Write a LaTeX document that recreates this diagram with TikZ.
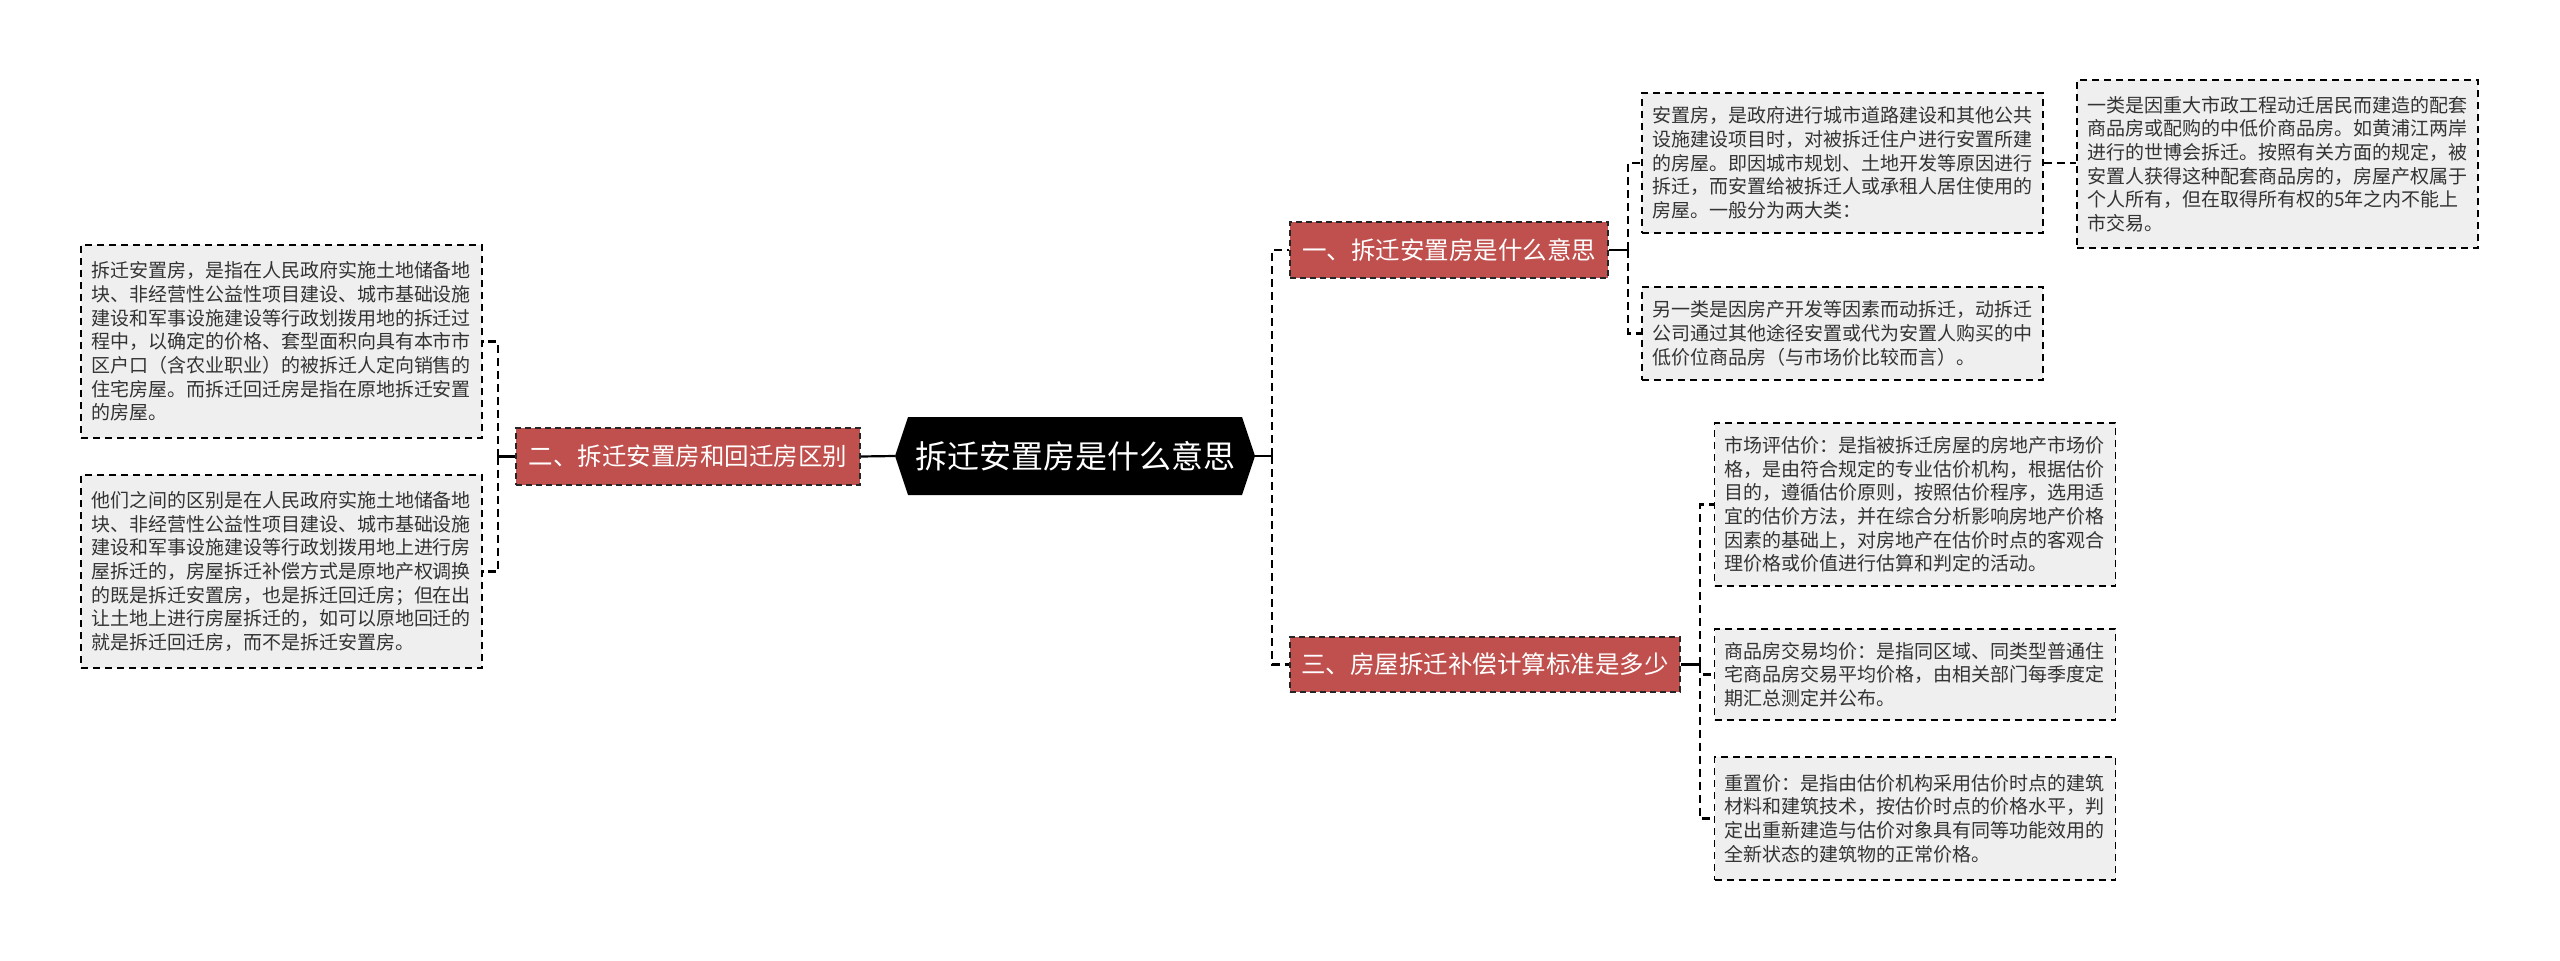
\documentclass[tikz,border=0pt]{standalone}
\usepackage{fontspec}
\setmainfont{Noto Sans CJK SC}
\definecolor{redbox}{HTML}{C0504D}
\definecolor{greybox}{HTML}{EFEFEF}
\definecolor{txt}{HTML}{333333}
\begin{document}
\begin{tikzpicture}[x=1pt,y=-1pt,
  leaf/.style={draw=black, fill=greybox, line width=1.8pt, dash pattern=on 7pt off 5pt,
    text=txt, font={\fontsize{19}{23.7}\selectfont}, align=left, text width=381pt,
    inner xsep=10pt, inner ysep=0pt, anchor=center},
  topic/.style={draw=black!85, fill=redbox, line width=1.6pt, dash pattern=on 6pt off 4pt,
    text=white, font={\fontsize{24.5}{28}\selectfont}, inner sep=0pt, anchor=center},
  link/.style={draw=black, line width=2.2pt, dash pattern=on 8pt off 5pt},
  stub/.style={draw=black, line width=2.2pt}
]
\useasboundingbox (0,0) rectangle (2560,961);
\fill[white] (0,0) rectangle (2560,961);

% center
\fill[black] (895,456) -- (908,417) -- (1242,417) -- (1255,456) -- (1242,495) -- (908,495) -- cycle;
\node[text=white, font={\fontsize{32}{36}\selectfont}, minimum width=360pt, minimum height=78pt, inner sep=0pt] (ctr) at (1075,456) {拆迁安置房是什么意思};

% topics
\node[topic, minimum width=318pt, minimum height=56pt] (t1) at (1449,250) {一、拆迁安置房是什么意思};
\node[topic, minimum width=344pt, minimum height=57pt] (t2) at (688,456.5) {二、拆迁安置房和回迁房区别};
\node[topic, minimum width=390pt, minimum height=55pt] (t3) at (1485,664.5) {三、房屋拆迁补偿计算标准是多少};

% left leaves
\node[leaf, minimum height=193pt] (l1) at (281.5,341.5) {拆迁安置房，是指在人民政府实施土地储备地\\块、非经营性公益性项目建设、城市基础设施\\建设和军事设施建设等行政划拨用地的拆迁过\\程中，以确定的价格、套型面积向具有本市市\\区户口（含农业职业）的被拆迁人定向销售的\\住宅房屋。而拆迁回迁房是指在原地拆迁安置\\的房屋。};
\node[leaf, minimum height=193pt] (l2) at (281.5,571.5) {他们之间的区别是在人民政府实施土地储备地\\块、非经营性公益性项目建设、城市基础设施\\建设和军事设施建设等行政划拨用地上进行房\\屋拆迁的，房屋拆迁补偿方式是原地产权调换\\的既是拆迁安置房，也是拆迁回迁房；但在出\\让土地上进行房屋拆迁的，如可以原地回迁的\\就是拆迁回迁房，而不是拆迁安置房。};

% right leaves, topic 1
\node[leaf, minimum height=140pt] (a) at (1842.5,163) {安置房，是政府进行城市道路建设和其他公共\\设施建设项目时，对被拆迁住户进行安置所建\\的房屋。即因城市规划、土地开发等原因进行\\拆迁，而安置给被拆迁人或承租人居住使用的\\房屋。一般分为两大类：};
\node[leaf, minimum height=93pt] (b) at (1842.5,333.5) {另一类是因房产开发等因素而动拆迁，动拆迁\\公司通过其他途径安置或代为安置人购买的中\\低价位商品房（与市场价比较而言）。};
\node[leaf, minimum height=168pt] (c) at (2277.5,164) {一类是因重大市政工程动迁居民而建造的配套\\商品房或配购的中低价商品房。如黄浦江两岸\\进行的世博会拆迁。按照有关方面的规定，被\\安置人获得这种配套商品房的，房屋产权属于\\个人所有，但在取得所有权的5年之内不能上\\市交易。};

% right leaves, topic 3
\node[leaf, minimum height=163pt] (d) at (1915,504.5) {市场评估价：是指被拆迁房屋的房地产市场价\\格，是由符合规定的专业估价机构，根据估价\\目的，遵循估价原则，按照估价程序，选用适\\宜的估价方法，并在综合分析影响房地产价格\\因素的基础上，对房地产在估价时点的客观合\\理价格或价值进行估算和判定的活动。};
\node[leaf, minimum height=91pt] (e) at (1915,674.5) {商品房交易均价：是指同区域、同类型普通住\\宅商品房交易平均价格，由相关部门每季度定\\期汇总测定并公布。};
\node[leaf, minimum height=123pt] (f) at (1915,818.5) {重置价：是指由估价机构采用估价时点的建筑\\材料和建筑技术，按估价时点的价格水平，判\\定出重新建造与估价对象具有同等功能效用的\\全新状态的建筑物的正常价格。};

% junction coordinates
\coordinate (jr) at (1272,456);
\coordinate (jl) at (878,456);
\coordinate (j1) at (1628,250);
\coordinate (j3) at (1700,664.5);
\coordinate (j2) at (498,456.5);

% center connectors
\draw[stub] (ctr.east) -- (jr);
\draw[stub] (ctr.west) -- (t2.east);
\draw[link] (jr) |- (t1.west);
\draw[link] (jr) |- (t3.west);

% topic 1
\draw[stub] (t1.east) -- (j1);
\draw[link] (j1) |- (a.west);
\draw[link] (j1) |- (b.west);
\draw[link] (a.east) -- (c.west |- a.east);

% topic 2
\draw[stub] (t2.west) -- (j2);
\draw[link] (j2) |- (l1.east);
\draw[link] (j2) |- (l2.east);

% topic 3
\draw[stub] (t3.east) -- (j3);
\draw[link] (j3) |- (d.west);
\draw[link] (j3) |- (e.west);
\draw[link] (j3) |- (f.west);
\end{tikzpicture}
\end{document}
